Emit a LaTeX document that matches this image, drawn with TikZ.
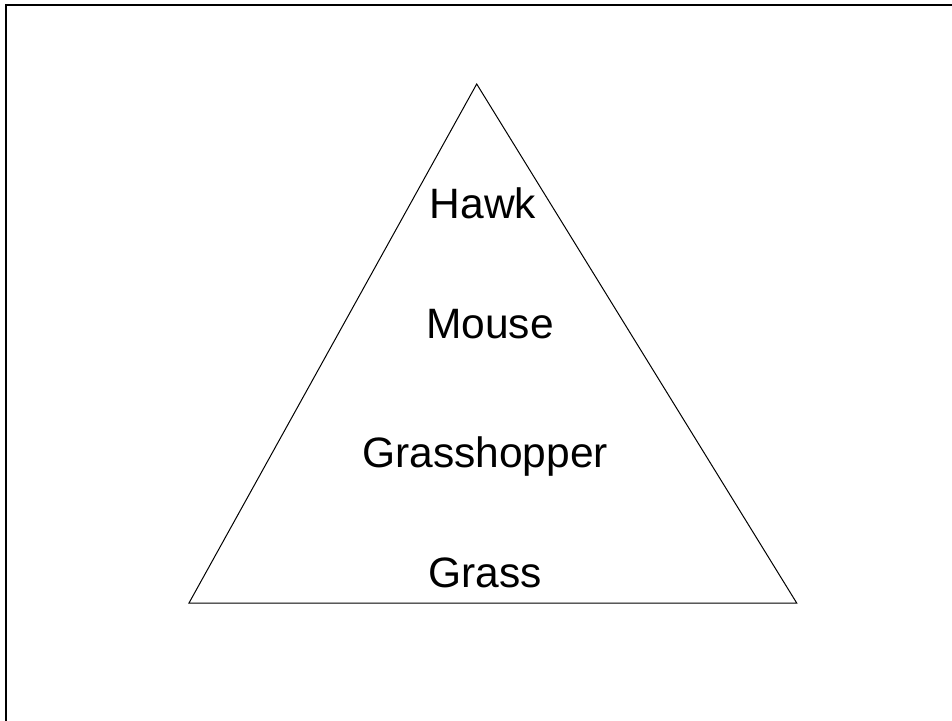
\documentclass[tikz,border=0pt]{standalone}
\usepackage{fontspec}
\setmainfont{Liberation Sans}
\begin{document}
\begin{tikzpicture}[x=1pt,y=-1pt,
  level/.style={anchor=base,inner sep=0pt,font=\fontsize{42.5}{51}\selectfont},
  pyramid/.style={draw=black,line width=1pt,line join=miter}]
\useasboundingbox (0,0) rectangle (952,720);
\clip (0,0) rectangle (952,720);
% outer frame, running past the page edge on the right and bottom
\draw[line width=2.5pt] (6,740) -- (6,5) -- (970,5);
% the pyramid
\coordinate (apex) at (476.7,84);
\coordinate (bl) at (189,603);
\coordinate (br) at (796.7,603);
\draw[pyramid] (apex) -- (br) -- (bl) -- cycle;
% trophic levels
\node[level] (hawk) at (483,218) {Hawk};
\node[level] (mouse) at (490,338) {Mouse};
\node[level] (hopper) at (485,467) {Grasshopper};
\node[level] (grass) at (485,587) {Grass};
\end{tikzpicture}
\end{document}
